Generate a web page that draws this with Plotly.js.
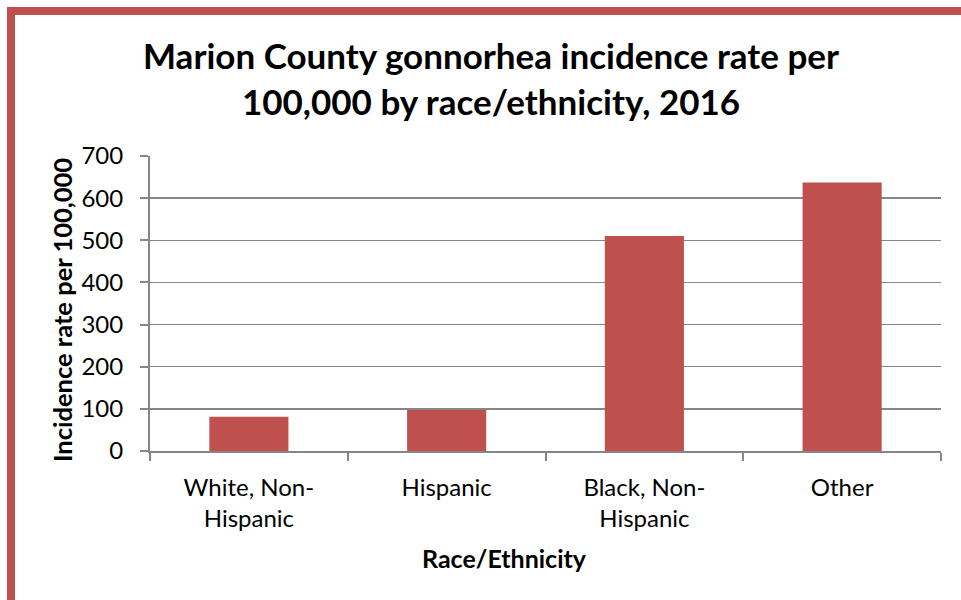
<!DOCTYPE html>
<html>
<head>
<meta charset="utf-8">
<script src="https://cdn.plot.ly/plotly-3.0.1.min.js"></script>
<style>
html,body{margin:0;padding:0;background:#fff;overflow:hidden;}
#chart{width:961px;height:600px;}
#frame{position:absolute;left:7px;top:7px;width:1000px;height:700px;border-left:8px solid #C0504D;border-top:8px solid #C0504D;pointer-events:none;}
</style>
</head>
<body>
<div id="chart"></div>
<div id="frame"></div>
<script>
const categories = ["White, Non-<br>Hispanic", "Hispanic", "Black, Non-<br>Hispanic", "Other"];
const rates = [81, 97, 510, 637];
const yTicks = [0, 100, 200, 300, 400, 500, 600, 700];

const chartTitle = "Marion County gonnorhea incidence rate per<br>100,000 by race/ethnicity, 2016";
const xTitle = "Race/Ethnicity";
const yTitle = "Incidence rate per 100,000";

const FONT = "Lato, 'Open Sans', sans-serif";
const GRAY = "#868686";

const data = [{
  type: "bar",
  x: categories,
  y: rates,
  marker: {color: "#C0504D"},
  hoverinfo: "x+y"
}];

const layout = {
  width: 961, height: 600,
  paper_bgcolor: "#fff", plot_bgcolor: "#fff",
  margin: {l: 150, r: 20, t: 156, b: 149},
  bargap: 0.6,
  showlegend: false,
  font: {family: FONT, color: "#000"},
  xaxis: {
    type: "category",
    showline: true, linecolor: GRAY, linewidth: 2,
    ticks: "outside", tickson: "boundaries", ticklen: 8, tickwidth: 2, tickcolor: GRAY,
    tickfont: {family: FONT, size: 24, color: "#000"},
    ticklabelstandoff: 14,
    showgrid: false, zeroline: false
  },
  yaxis: {
    range: [0, 700],
    tickvals: yTicks,
    showline: true, linecolor: GRAY, linewidth: 2,
    ticks: "outside", ticklen: 8, tickwidth: 2, tickcolor: GRAY,
    tickfont: {family: FONT, size: 24, color: "#000"},
    ticklabelstandoff: 12,
    showgrid: true, gridcolor: GRAY, gridwidth: 1.5,
    zeroline: false
  },
  annotations: [
    {text: "<b>" + chartTitle + "</b>", xref: "paper", yref: "paper",
     x: (491 - 150) / 791, y: (451 - 78) / 295, xanchor: "center", yanchor: "middle",
     showarrow: false, font: {family: FONT, size: 35, color: "#000"}},
    {text: "<b>" + xTitle + "</b>", xref: "paper", yref: "paper",
     x: (504 - 150) / 791, y: (451 - 558) / 295, xanchor: "center", yanchor: "middle",
     showarrow: false, font: {family: FONT, size: 25, color: "#000"}},
    {text: "<b>" + yTitle + "</b>", xref: "paper", yref: "paper",
     x: (62 - 150) / 791, y: (451 - 310) / 295, xanchor: "center", yanchor: "middle",
     textangle: -90,
     showarrow: false, font: {family: FONT, size: 25.5, color: "#000"}}
  ]
};

Plotly.newPlot("chart", data, layout, {displayModeBar: false, staticPlot: true});
</script>
</body>
</html>
